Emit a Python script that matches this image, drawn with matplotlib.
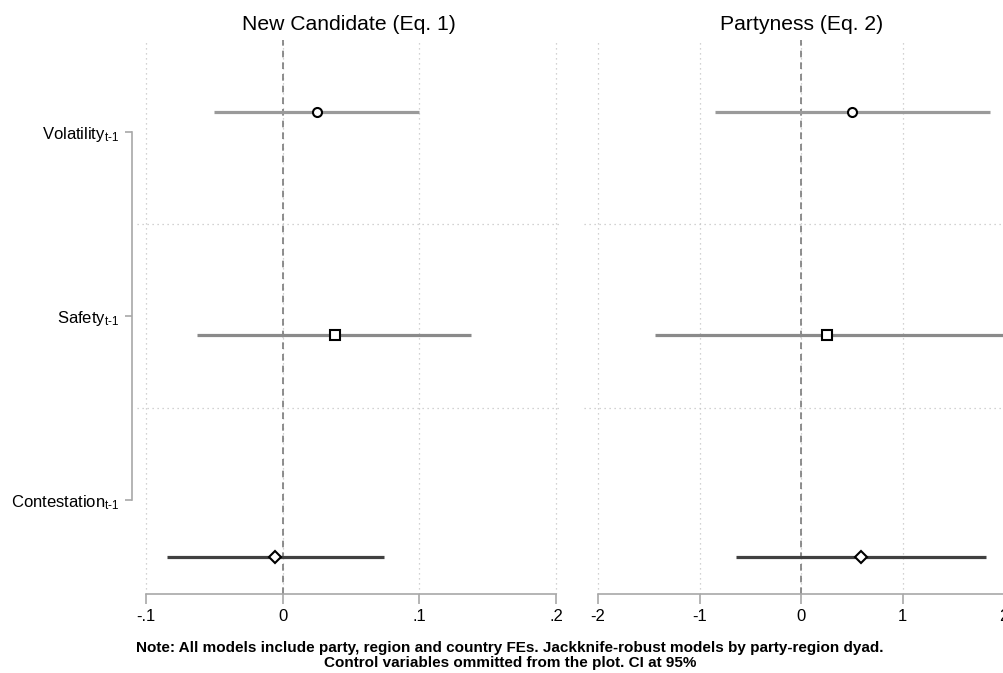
import numpy as np
import matplotlib.pyplot as plt

plt.rcParams['font.family'] = ['Liberation Sans', 'DejaVu Sans']
plt.rcParams['mathtext.fontset'] = 'custom'
plt.rcParams['mathtext.rm'] = 'Liberation Sans'
plt.rcParams['mathtext.it'] = 'Liberation Sans'

variables = ['Volatility$_{\\mathrm{t\\text{-}1}}$', 'Safety$_{\\mathrm{t\\text{-}1}}$',
             'Contestation$_{\\mathrm{t\\text{-}1}}$']
markers = ['o', 's', 'D']
ci_colors = ['#9a9a9a', '#8a8a8a', '#404040']

# Eq. 1: new candidate
nc_coef = [0.025, 0.038, -0.006]
nc_lo = [-0.050, -0.063, -0.085]
nc_hi = [0.100, 0.138, 0.074]
nc_ticks = [-0.1, 0, 0.1, 0.2]
nc_ticklabels = ['-.1', '0', '.1', '.2']

# Eq. 2: partyness
pt_coef = [0.50, 0.26, 0.59]
pt_lo = [-0.85, -1.44, -0.64]
pt_hi = [1.86, 2.10, 1.82]
pt_ticks = [-2, -1, 0, 1, 2]
pt_ticklabels = ['-2', '-1', '0', '1', '2']

axcol = '#a8a8a8'
gridcol = '#c4c4c4'

fig = plt.figure(figsize=(10.04, 6.73), dpi=100)
bottom, height = 0.1174, 0.8232
pos_l = [0.1365, bottom, 0.4213, height]
pos_r = [0.5817, bottom, 0.4183, height]

ypos = np.arange(1, len(variables) + 1)


def panel(pos, coef, lo, hi, ticks, ticklabels, xlim, title, title_x, show_y):
    # axes carrying the y labels and horizontal grid
    lab = fig.add_axes(pos)
    lab.set_ylim(3.511, 0.5)
    lab.set_xlim(0, 1)
    lab.set_xticks([])
    for s in ['top', 'right', 'bottom']:
        lab.spines[s].set_visible(False)
    lab.set_yticks(ypos)
    lab.set_yticks(ypos[:-1] + 0.5, minor=True)
    lab.tick_params(axis='y', which='minor', length=0)
    lab.grid(axis='y', which='minor', color=gridcol, linestyle=(0, (1, 3)), lw=0.9)
    if show_y:
        lab.spines['left'].set_position(('outward', 3.6))
        lab.spines['left'].set_bounds(ypos[0], ypos[-1])
        lab.spines['left'].set_color(axcol)
        lab.spines['left'].set_linewidth(1.2)
        lab.set_yticklabels(variables, fontsize=12)
        lab.tick_params(axis='y', which='major', length=5, width=1.2, color=axcol, pad=4)
    else:
        lab.spines['left'].set_visible(False)
        lab.tick_params(axis='y', which='major', length=0, labelleft=False)

    ax = fig.add_axes(pos)
    ax.patch.set_alpha(0)
    ax.set_xlim(*xlim)
    ax.set_ylim(3.166, 0.676)
    ax.set_yticks([])
    for s in ['top', 'right', 'left']:
        ax.spines[s].set_visible(False)
    ax.spines['bottom'].set_bounds(ticks[0], ticks[-1])
    ax.spines['bottom'].set_color(axcol)
    ax.spines['bottom'].set_linewidth(1.2)
    ax.set_xticks(ticks)
    ax.set_xticklabels(ticklabels, fontsize=12)
    ax.tick_params(axis='x', length=7, width=1.2, color=axcol, pad=4)
    ax.grid(axis='x', color=gridcol, linestyle=(0, (1, 3)), lw=0.9)
    ax.axvline(0, color='#7a7a7a', lw=1.2, dashes=(4, 3), zorder=2)

    for i in range(len(coef)):
        ax.plot([lo[i], hi[i]], [ypos[i], ypos[i]], color=ci_colors[i],
                lw=2.3, solid_capstyle='butt', zorder=3)
        ax.plot(coef[i], ypos[i], marker=markers[i], ms=6.5 if markers[i] != 'D' else 6,
                mfc='white', mec='black', mew=1.5, ls='none', zorder=4)
    ax.text(title_x, 1.01, title, transform=ax.transAxes, ha='center',
            va='bottom', fontsize=15.2)
    return ax


panel(pos_l, nc_coef, nc_lo, nc_hi, nc_ticks, nc_ticklabels, (-0.1066, 0.2029),
      'New Candidate (Eq. 1)', 0.5, True)
panel(pos_r, pt_coef, pt_lo, pt_hi, pt_ticks, pt_ticklabels, (-2.138, 2.0),
      'Partyness (Eq. 2)', 0.517, False)

fig.text(0.508, 0.004,
         'Note: All models include party, region and country FEs. Jackknife-robust models by party-region dyad.\n'
         'Control variables ommitted from the plot. CI at 95%',
         ha='center', va='bottom', fontsize=11, fontweight='bold', linespacing=1.12)

fig.savefig('out.png', dpi=100)
